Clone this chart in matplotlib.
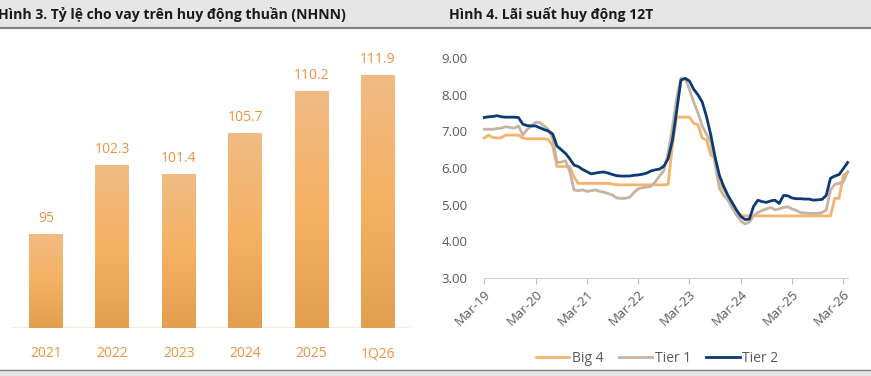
import numpy as np
import matplotlib
matplotlib.use("Agg")
import matplotlib.pyplot as plt
from matplotlib.colors import LinearSegmentedColormap

plt.rcParams['font.family'] = ['Open Sans', 'DejaVu Sans']

# Hinh 3 data
ldr_labels = ['2021', '2022', '2023', '2024', '2025', '1Q26']
ldr_values = [95, 102.3, 101.4, 105.7, 110.2, 111.9]

# Hinh 4 data (monthly, Mar-19 .. Apr-26)
big4 = [6.82, 6.90, 6.83, 6.82, 6.83, 6.90, 6.90, 6.90, 6.90, 6.82,
        6.80, 6.80, 6.80, 6.80, 6.80, 6.78, 6.60, 6.04, 6.04, 6.04,
        6.04, 5.75, 5.58, 5.58, 5.58, 5.58, 5.58, 5.58, 5.58, 5.58,
        5.56, 5.54, 5.54, 5.54, 5.54, 5.54, 5.54, 5.54, 5.54, 5.54,
        5.54, 5.54, 5.54, 5.55, 6.60, 7.39, 7.39, 7.39, 7.39, 7.22,
        7.18, 6.82, 6.77, 6.35, 6.28, 5.60, 5.42, 5.22, 5.05, 4.85,
        4.70, 4.69, 4.69, 4.69, 4.69, 4.69, 4.69, 4.69, 4.69, 4.69,
        4.69, 4.69, 4.69, 4.69, 4.69, 4.69, 4.69, 4.69, 4.69, 4.69,
        4.69, 4.69, 5.17, 5.17, 5.80, 5.88]
tier1 = [7.06, 7.06, 7.06, 7.08, 7.09, 7.13, 7.11, 7.09, 7.15, 6.90,
         7.05, 7.15, 7.25, 7.24, 7.15, 7.05, 6.80, 6.15, 6.16, 6.20,
         5.90, 5.40, 5.38, 5.40, 5.36, 5.38, 5.40, 5.36, 5.34, 5.30,
         5.26, 5.18, 5.17, 5.17, 5.20, 5.33, 5.43, 5.46, 5.48, 5.50,
         5.62, 5.78, 5.93, 6.40, 7.10, 7.90, 8.45, 8.45, 8.15, 7.80,
         7.50, 7.15, 6.92, 6.70, 6.10, 5.45, 5.25, 5.12, 4.90, 4.72,
         4.55, 4.47, 4.52, 4.70, 4.78, 4.84, 4.88, 4.92, 4.86, 4.88,
         4.92, 4.94, 4.88, 4.84, 4.78, 4.77, 4.76, 4.76, 4.76, 4.78,
         4.85, 5.40, 5.55, 5.58, 5.62, 5.90]
tier2 = [7.38, 7.40, 7.41, 7.43, 7.40, 7.39, 7.39, 7.39, 7.38, 7.20,
         7.16, 7.15, 7.15, 7.10, 7.05, 7.01, 6.93, 6.60, 6.50, 6.40,
         6.25, 6.08, 6.04, 5.96, 5.90, 5.84, 5.86, 5.88, 5.89, 5.86,
         5.82, 5.79, 5.78, 5.78, 5.78, 5.80, 5.81, 5.83, 5.86, 5.92,
         5.95, 5.97, 6.05, 6.25, 6.75, 7.55, 8.40, 8.45, 8.38, 8.15,
         8.00, 7.80, 7.40, 6.90, 6.30, 5.80, 5.50, 5.25, 5.05, 4.85,
         4.68, 4.59, 4.60, 4.95, 5.12, 5.08, 5.06, 5.10, 5.12, 5.03,
         5.25, 5.24, 5.18, 5.16, 5.16, 5.15, 5.15, 5.12, 5.13, 5.14,
         5.25, 5.72, 5.78, 5.82, 5.98, 6.15]
x_ticklabels = ['Mar-19', 'Mar-20', 'Mar-21', 'Mar-22', 'Mar-23', 'Mar-24', 'Mar-25', 'Mar-26']

W, H = 871, 376
fig = plt.figure(figsize=(W / 100, H / 100), dpi=100)

def px(x0, y0, x1, y1):
    # pixel box (top-left origin) -> figure fraction
    return [x0 / W, 1 - y1 / H, (x1 - x0) / W, (y1 - y0) / H]

# header / footer bands
fig.patches.append(plt.Rectangle((0, 1 - 27 / H), 1, 27 / H, transform=fig.transFigure,
                                 color='#e6e6e6', zorder=0))
fig.lines.append(plt.Line2D([0, 1], [1 - 28 / H] * 2, transform=fig.transFigure,
                            color='#808080', lw=1.6))
fig.patches.append(plt.Rectangle((0, 0), 1, 6 / H, transform=fig.transFigure,
                                 color='#e6e6e6', zorder=0))
fig.lines.append(plt.Line2D([0, 1], [6 / H] * 2, transform=fig.transFigure,
                            color='#808080', lw=1.0))

fig.text(-0.002, 1 - 14 / H, 'Hình 3. Tỷ lệ cho vay trên huy động thuần (NHNN)',
         fontsize=10.1, fontweight='bold', va='center', ha='left', color='#1a1a1a')
fig.text(449 / W, 1 - 14 / H, 'Hình 4. Lãi suất huy động 12T',
         fontsize=10.1, fontweight='bold', va='center', ha='left', color='#1a1a1a')

# ---- Hinh 3: bars ----
base = 85
ax1 = fig.add_axes(px(12, 40, 411, 328))
xpos = np.arange(len(ldr_values))
bars = ax1.bar(xpos, np.array(ldr_values) - base, bottom=base, width=0.51,
               color='#f0ae65', zorder=2)
cmap = LinearSegmentedColormap.from_list('bar', ['#e39f50', '#f5b264', '#f0bb84'])
grad = np.linspace(0, 1, 256).reshape(-1, 1)
for b in bars:
    x0, y0 = b.get_xy()
    im = ax1.imshow(grad, cmap=cmap, origin='lower', aspect='auto', zorder=3,
                    extent=[x0, x0 + b.get_width(), y0, y0 + b.get_height()])
    im.set_clip_path(b)
for xi, v in zip(xpos, ldr_values):
    ax1.annotate(f'{v:g}', (xi, v), xytext=(0, 11), textcoords='offset points',
                 ha='center', va='center', fontsize=10, color='#f0913f')
ax1.axhline(base, color='#fce3d2', lw=1.2, zorder=1)
ax1.set_xlim(-0.512, 5.497)
ax1.set_ylim(base, base + 288 / 9.41)
ax1.set_xticks(xpos)
ax1.set_xticklabels(ldr_labels, fontsize=10, color='#f0913f')
ax1.tick_params(axis='x', length=0, pad=13)
ax1.set_yticks([])
for s in ax1.spines.values():
    s.set_visible(False)

# ---- Hinh 4: lines ----
ax2 = fig.add_axes(px(484.3, 58.3, 847.6, 277.7))
m = np.arange(len(tier2))
ax2.plot(m, big4, color='#f4b46c', lw=2.0, label='Big 4', clip_on=False)
ax2.plot(m, tier1, color='#c6b3a1', lw=2.0, label='Tier 1', clip_on=False)
ax2.plot(m, tier2, color='#0c3a75', lw=2.0, label='Tier 2', clip_on=False)
ax2.set_xlim(0, 85)
ax2.set_ylim(3, 9)
ax2.set_yticks(np.arange(3, 10, 1))
ax2.set_yticklabels([f'{v:.2f}' for v in range(3, 10)], fontsize=9.5, color='#595959')
ax2.tick_params(axis='y', length=0, pad=12)
ax2.set_xticks(np.arange(0, 85, 12))
ax2.set_xticklabels(x_ticklabels, fontsize=9.5, color='#595959', rotation=45,
                    ha='right', rotation_mode='anchor')
ax2.tick_params(axis='x', length=4, color='#bfbfbf', width=0.8, pad=3)
for s in ['top', 'right', 'left']:
    ax2.spines[s].set_visible(False)
ax2.spines['bottom'].set_color('#d0d0d0')
ax2.spines['bottom'].set_linewidth(0.8)
fig.legend(*ax2.get_legend_handles_labels(), loc='center', bbox_to_anchor=(657 / W, 1 - 358 / H),
           ncol=3, frameon=False, fontsize=10, handlelength=2.4, handletextpad=0.2,
           columnspacing=1.1, labelcolor='#595959')

fig.savefig('out.png', dpi=100)
